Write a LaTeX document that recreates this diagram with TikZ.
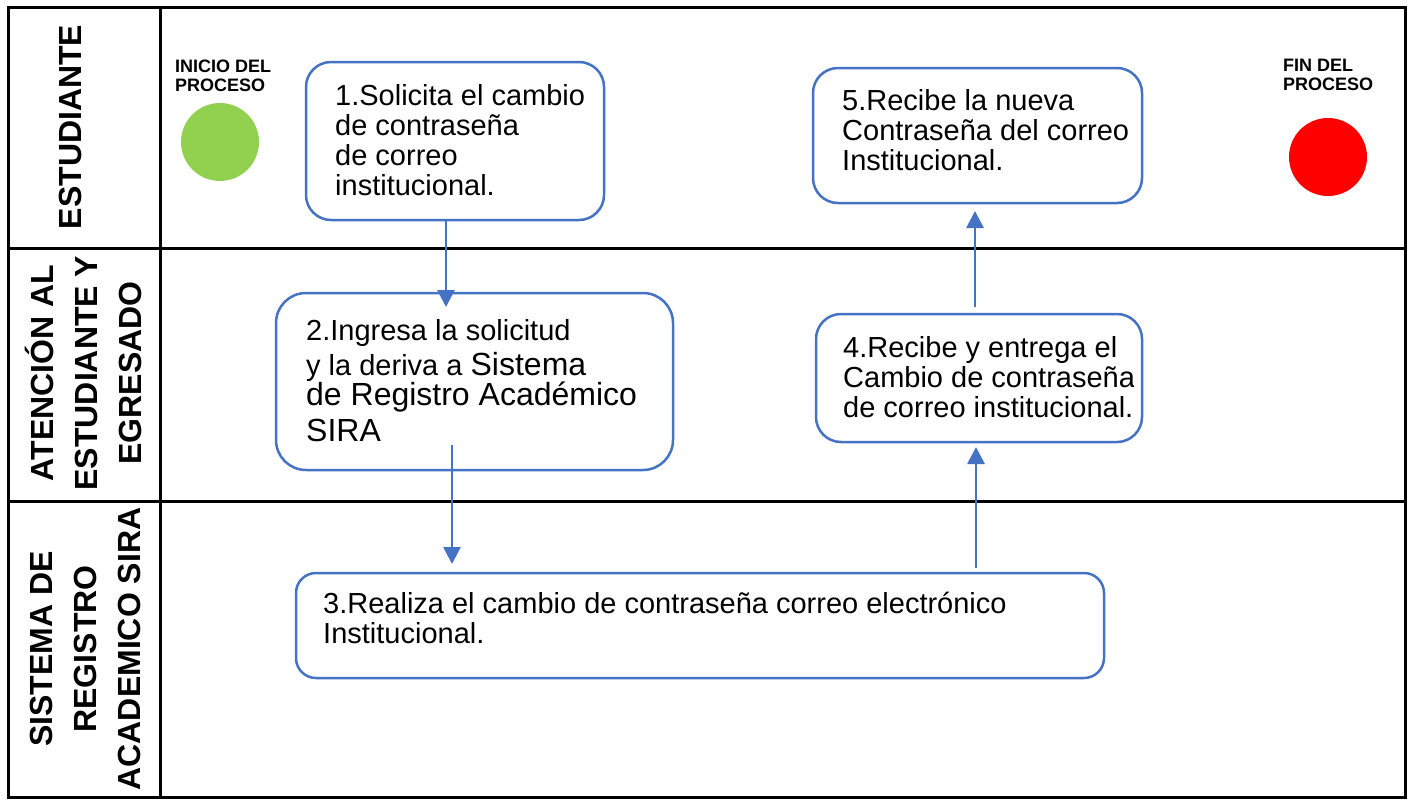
\documentclass[tikz,border=0pt]{standalone}
\usepackage{fontspec}
\setmainfont{Liberation Sans}
\usetikzlibrary{arrows.meta}
\definecolor{boxblue}{HTML}{4472C4}
\definecolor{startgreen}{HTML}{92D050}
\begin{document}
\begin{tikzpicture}[x=1pt,y=-1pt,
  grid/.style={draw=black,line width=3pt},
  proc/.style={draw=boxblue,line width=2.5pt,rounded corners=25pt,inner sep=0pt},
  txt/.style={anchor=north west,inner sep=0pt,align=left,font=\fontsize{29}{30}\selectfont},
  lanelbl/.style={rotate=90,align=center,inner sep=0pt,font=\bfseries\fontsize{32}{44}\selectfont},
  smalllbl/.style={anchor=north west,inner sep=0pt,align=left,font=\bfseries\fontsize{18}{19}\selectfont},
  arr/.style={draw=boxblue,line width=2.8pt,-{Triangle[width=17pt,length=17pt]}}]
\useasboundingbox (0,0) rectangle (1410,801);
% lanes
\draw[grid] (8,7) rectangle (1405,797);
\draw[grid] (160,7) -- (160,797);
\draw[grid] (8,248) -- (1405,248);
\draw[grid] (8,501) -- (1405,501);
\node[lanelbl] (l1) at (70,127) {ESTUDIANTE};
\node[lanelbl] (l2) at (83,373) {ATENCIÓN AL\\ESTUDIANTE Y\\EGRESADO};
\node[lanelbl] (l3) at (85,649) {SISTEMA DE\\REGISTRO\\ACADEMICO SIRA};
% start / end
\node[smalllbl] (tini) at (175,59.6) {INICIO DEL\\PROCESO};
\node[circle,fill=startgreen,minimum size=78pt,inner sep=0pt] (start) at (220,142) {};
\node[smalllbl] (tfin) at (1283,59.2) {FIN DEL\\PROCESO};
\node[circle,fill=red,minimum size=78pt,inner sep=0pt] (stop) at (1328,157) {};
% boxes
\node[proc,minimum width=298pt,minimum height=158pt] (b1) at (455,141) {};
\node[proc,rounded corners=30pt,minimum width=397pt,minimum height=177pt] (b2) at (474.5,381.5) {};
\node[proc,rounded corners=20pt,minimum width=808pt,minimum height=105pt] (b3) at (700,625.5) {};
\node[proc,minimum width=326pt,minimum height=128pt] (b4) at (979,378) {};
\node[proc,minimum width=329pt,minimum height=135pt] (b5) at (977.5,135.5) {};
% texts
\node[txt] (t1) at (335,83.8) {1.Solicita el cambio\\de contraseña\\de correo\\institucional.};
\node[txt] (t2) at (306,318.8) {2.Ingresa la solicitud\\[5pt]y la deriva a {\fontsize{32}{30}\selectfont Sistema}\\{\fontsize{32}{30}\selectfont de Registro Académico}\\[6pt]{\fontsize{32}{30}\selectfont SIRA}};
\node[txt] (t3) at (323,591.8) {3.Realiza el cambio de contraseña correo electrónico\\Institucional.};
\begin{scope}
\clip (816,300) rectangle (1133,450);
\node[txt] (t4) at (843,335.8) {4.Recibe y entrega el\\Cambio de contraseña\\de correo institucional.};
\end{scope}
\node[txt] (t5) at (842,88.8) {5.Recibe la nueva\\Contraseña del correo\\Institucional.};
% arrows
\coordinate (e12) at (446,307);
\coordinate (s23) at (452,445);
\coordinate (e23) at (452,564);
\coordinate (s34) at (976,568);
\coordinate (e34) at (976,447);
\coordinate (s45) at (975,307);
\coordinate (e45) at (975,211);
\draw[arr] (b1.south -| e12) -- (e12);
\draw[arr] (s23) -- (e23);
\draw[arr] (s34) -- (e34);
\draw[arr] (s45) -- (e45);
\end{tikzpicture}
\end{document}
